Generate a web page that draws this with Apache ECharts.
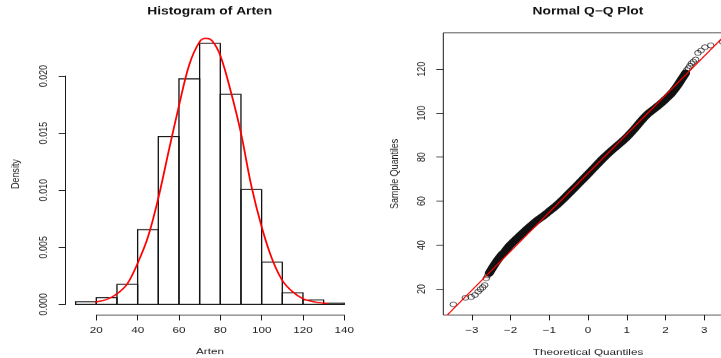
<!DOCTYPE html>
<html>
<head>
<meta charset="utf-8">
<script src="https://cdn.jsdelivr.net/npm/echarts@6/dist/echarts.min.js"></script>
<style>
  html, body { margin: 0; padding: 0; background: #fff; overflow: hidden; }
  #wrap { width: 721px; height: 358px; overflow: hidden; }
  /* the chart is laid out on a taller surface and squeezed vertically */
  #chart { width: 721px; height: 471px; transform: scale(1, 0.7601); transform-origin: 0 0; }
</style>
</head>
<body>
<div id="wrap"><div id="chart"></div></div>
<script>
// ---- histogram of Arten (density scale) ----
const binEdges = [10, 20, 30, 40, 50, 60, 70, 80, 90, 100, 110, 120, 130, 140];
const binDensity = [0.00024, 0.00058, 0.00175, 0.00655, 0.0147, 0.01975, 0.02285,
                    0.0184, 0.01005, 0.0037, 0.00102, 0.00038, 0.0001];
const histXTicks = [20, 40, 60, 80, 100, 120, 140];

// fitted normal density drawn over the bars
const curveX = [13, 16, 20, 25, 30, 35, 40, 45, 50, 55, 60, 65, 70, 73, 76, 80,
                85, 90, 95, 100, 105, 110, 115, 120, 125, 130, 132];
const curveY = [0.00009, 0.00014, 0.00022, 0.00043, 0.00092, 0.0018, 0.0036, 0.0059,
                0.0093, 0.0134, 0.0174, 0.0210, 0.0230, 0.0233, 0.0231, 0.0218,
                0.0187, 0.0150, 0.0104, 0.0068, 0.0040, 0.0021, 0.0011, 0.0005,
                0.00024, 0.00011, 0.00008];

// ---- normal Q-Q plot ----
// dense middle of the point cloud
const qqBandTheo = [-2.55, -2.45, -2.35, -2.25, -2.15, -2.05, -1.95, -1.85, -1.75, -1.6,
                    -1.45, -1.3, -1.15, -1.0, -0.8, -0.6, -0.4, -0.2, 0.0, 0.2, 0.4,
                    0.6, 0.8, 1.0, 1.2, 1.4, 1.55, 1.7, 1.85, 2.0, 2.15, 2.3, 2.42, 2.52];
const qqBandSample = [27.3, 30.2, 32.8, 35.2, 37.0, 39.3, 41.1, 42.8, 44.4, 46.9,
                      49.2, 51.4, 53.3, 55.4, 58.3, 61.6, 65.1, 68.7, 72.3, 76.0, 79.6,
                      82.9, 85.9, 89.1, 92.9, 97.0, 99.7, 101.8, 103.9, 106.3, 108.9,
                      112.3, 115.5, 118.2];
// individually visible points in both tails
const qqLowTheo = [-3.48, -3.17, -3.02, -2.92, -2.84, -2.78, -2.72, -2.67, -2.63, -2.59, -2.55, -2.52];
const qqLowSample = [13.0, 16.0, 16.4, 17.3, 18.8, 19.9, 20.8, 21.8, 24.9, 26.2, 27.0, 27.8];
const qqHighTheo = [2.52, 2.55, 2.59, 2.63, 2.67, 2.72, 2.78, 2.84, 2.92, 3.02, 3.17, 3.48];
const qqHighSample = [118.6, 119.6, 120.4, 121.5, 122.6, 123.4, 124.4, 127.4, 128.5, 130.0, 130.8, 132.4];
// reference line through the quartiles
const qqLineTheo = [-3.8, 3.8];
const qqLineSample = [5.3, 140.1];
const qqXTicks = [-3, -2, -1, 0, 1, 2, 3];
const qqYTicks = [20, 40, 60, 80, 100, 120];

const FONT = '"Liberation Sans", Arial, Helvetica, sans-serif';
const INK = '#1a1a1a';
const pairs = (a, b) => a.map((v, i) => [v, b[i]]);
const minus = v => (v < 0 ? '\u2212' + Math.abs(v) : String(v));

const bins = binDensity.map((d, i) => [binEdges[i], binEdges[i + 1], d]);

const chart = echarts.init(document.getElementById('chart'), null, { renderer: 'canvas' });

const lineCommon = { show: true, onZero: false, lineStyle: { color: INK, width: 1 } };
const tickCommon = { show: true, length: 7, lineStyle: { color: INK, width: 1 } };
const labelCommon = { fontFamily: FONT, fontSize: 11.7, color: INK };
const nameStyle = { fontFamily: FONT, fontSize: 11.7, color: INK };

chart.setOption({
  animation: false,
  backgroundColor: '#fff',
  textStyle: { fontFamily: FONT },
  grid: [
    { left: 96.3, right: 376.7, top: 100, bottom: 70.6, containLabel: false, outerBoundsMode: 'none' },
    { left: 443.3, right: -11.8, top: 43, bottom: 56.6, containLabel: false, outerBoundsMode: 'none',
      show: true, borderColor: INK, borderWidth: 1, backgroundColor: 'transparent' }
  ],
  xAxis: [
    {
      gridIndex: 0, type: 'value', min: histXTicks[0], max: histXTicks[histXTicks.length - 1],
      interval: 20, offset: 14.1, splitLine: { show: false },
      axisLine: lineCommon, axisTick: tickCommon,
      axisLabel: Object.assign({}, labelCommon, { margin: 14.5 })
    },
    {
      gridIndex: 1, type: 'value', min: -3.74, max: 3.74, splitLine: { show: false },
      axisLine: { show: false, onZero: false },
      axisTick: Object.assign({}, tickCommon, { customValues: qqXTicks }),
      axisLabel: Object.assign({}, labelCommon, { margin: 14.5, customValues: qqXTicks, formatter: minus }),
      name: 'Theoretical Quantiles', nameLocation: 'middle', nameGap: 43, nameTextStyle: nameStyle
    }
  ],
  yAxis: [
    {
      gridIndex: 0, type: 'value', min: 0, max: 0.02, interval: 0.005, offset: 30.6,
      splitLine: { show: false },
      axisLine: lineCommon, axisTick: tickCommon,
      axisLabel: Object.assign({}, labelCommon, { rotate: 90, margin: 16, formatter: v => v.toFixed(3) })
    },
    {
      gridIndex: 1, type: 'value', min: 8.2, max: 136.6, splitLine: { show: false },
      axisLine: { show: false, onZero: false },
      axisTick: Object.assign({}, tickCommon, { customValues: qqYTicks }),
      axisLabel: Object.assign({}, labelCommon, { rotate: 90, margin: 16, customValues: qqYTicks }),
      name: 'Sample Quantiles', nameLocation: 'middle', nameGap: 43, nameTextStyle: nameStyle
    }
  ],
  graphic: [
    { type: 'text', x: 209.7, y: 15.4, silent: true,
      style: { text: 'Histogram of Arten', font: 'bold 13.8px ' + FONT, fill: '#111', align: 'center', verticalAlign: 'middle' } },
    { type: 'text', x: 588, y: 15.4, silent: true,
      style: { text: 'Normal Q\u2212Q Plot', font: 'bold 13.8px ' + FONT, fill: '#111', align: 'center', verticalAlign: 'middle' } },
    { type: 'text', x: 210, y: 463.1, silent: true,
      style: { text: 'Arten', font: '11.7px ' + FONT, fill: INK, align: 'center', verticalAlign: 'middle' } },
    { type: 'text', x: 16, y: 228.9, rotation: Math.PI / 2, silent: true,
      style: { text: 'Density', font: '11.7px ' + FONT, fill: INK, align: 'center', verticalAlign: 'middle' } }
  ],
  series: [
    {
      type: 'custom', xAxisIndex: 0, yAxisIndex: 0, clip: false,
      data: bins, encode: { x: [0, 1], y: 2 },
      renderItem: function (params, api) {
        const p0 = api.coord([api.value(0), 0]);
        const p1 = api.coord([api.value(1), api.value(2)]);
        return {
          type: 'rect',
          shape: { x: p0[0], y: p1[1], width: p1[0] - p0[0], height: p0[1] - p1[1] },
          style: { fill: 'none', stroke: '#111', lineWidth: 1.3 }
        };
      }
    },
    {
      type: 'line', xAxisIndex: 0, yAxisIndex: 0, clip: false, z: 4,
      data: pairs(curveX, curveY), smooth: 0.35, showSymbol: false,
      lineStyle: { color: '#ff0000', width: 1.8 }
    },
    {
      type: 'line', xAxisIndex: 1, yAxisIndex: 1, clip: true,
      data: pairs(qqBandTheo, qqBandSample), smooth: 0.3, showSymbol: false,
      lineStyle: { color: '#111', width: 9, cap: 'round', join: 'round' }
    },
    {
      type: 'scatter', xAxisIndex: 1, yAxisIndex: 1, clip: true,
      data: pairs(qqLowTheo, qqLowSample).concat(pairs(qqHighTheo, qqHighSample)),
      symbol: 'circle', symbolSize: 6.6,
      itemStyle: { color: 'rgba(0,0,0,0)', borderColor: '#111', borderWidth: 1 }
    },
    {
      type: 'line', xAxisIndex: 1, yAxisIndex: 1, clip: true, z: 5,
      data: pairs(qqLineTheo, qqLineSample), showSymbol: false,
      lineStyle: { color: '#ff0000', width: 1.3 }
    }
  ]
});
</script>
</body>
</html>
